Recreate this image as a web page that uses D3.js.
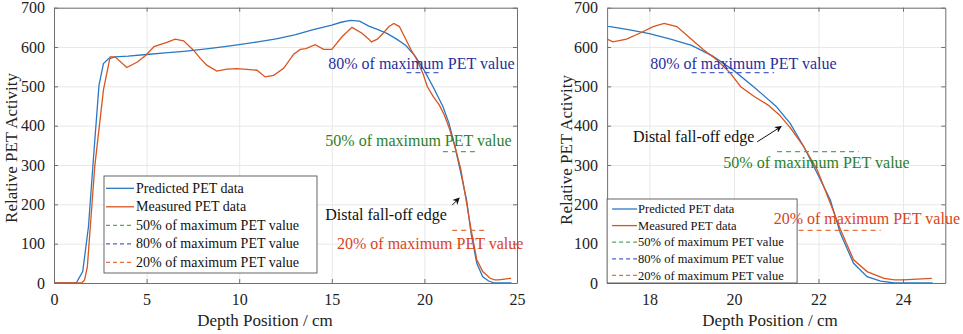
<!DOCTYPE html>
<html>
<head>
<meta charset="utf-8">
<script src="https://cdn.jsdelivr.net/npm/d3@7"></script>
<style>
  body { margin: 0; background: #fff; }
  svg text { font-family: "Liberation Serif", "DejaVu Serif", serif; }
  .grid line { stroke: #e8e8e8; }
  .grid .domain { display: none; }
  .frame .domain, .frame line { stroke: #707070; }
  .frame text { font-size: 16px; fill: #222; }
  .axis-label { font-size: 17px; fill: #222; }
</style>
</head>
<body>
<svg width="963" height="334"></svg>
<script>
// predicted PET profile (blue)
const predDepth = [0, 1.2, 1.55, 1.86, 2.15, 2.43, 2.67, 2.94, 3.3, 4, 5, 6, 7, 8, 9, 10, 11, 12, 13, 14, 15, 15.5, 16, 16.5,
  17, 17.5, 18, 18.5, 19, 19.5, 20, 20.5, 21, 21.33, 21.65, 21.97, 22.28, 22.52, 22.83, 23.15, 23.47, 23.8, 24.2, 24.7];
const predActivity = [0, 0, 29, 143, 330, 503, 558, 570, 575, 577, 581, 585, 589, 594, 600, 606, 613, 621, 631, 644, 656, 663, 668, 666,
  653, 644, 634, 620, 604, 577, 540, 496, 449, 406, 347, 279, 211, 126, 50, 16, 5, 0, 0, 0];

// measured PET profile (red)
const measDepth = [0, 1.5, 1.65, 1.8, 2.2, 2.67, 3.03, 3.3, 3.93, 4.5, 4.96, 5.4, 6.09, 6.54, 7.0, 7.53, 7.9, 8.25, 8.79, 9.34,
  9.87, 10.4, 10.96, 11.4, 11.86, 12.4, 12.94, 13.3, 13.6, 14.1, 14.56, 15.0, 15.55, 16.09, 16.63, 17.0, 17.14, 17.46, 17.77,
  18.09, 18.35, 18.65, 18.96, 19.28, 19.6, 19.92, 20.16, 20.48, 20.8, 21.07, 21.34, 21.65, 21.97, 22.28, 22.52, 22.83, 23.15,
  23.55, 23.8, 24.0, 24.33, 24.68];
const measActivity = [0, 0, 8, 41, 296, 491, 575, 575, 548, 562, 579, 601, 612, 620, 616, 592, 571, 554, 539, 544,
  545, 543, 541, 524, 528, 546, 582, 594, 596, 606, 594, 594, 626, 650, 635, 620, 613, 620, 635,
  652, 660, 652, 623, 593, 567, 533, 499, 474, 453, 428, 394, 347, 288, 203, 136, 59, 29,
  12, 8, 8, 10, 12];

// reference levels: 50%, 80%, 20% of maximum predicted value
const refNames = ['50% of maximum PET value', '80% of maximum PET value', '20% of maximum PET value'];
const refLevels = [334, 535, 134];

const legendNames = ['Predicted PET data', 'Measured PET data'].concat(refNames);

const yTicks = [0, 100, 200, 300, 400, 500, 600, 700];
const leftXTicks = [0, 5, 10, 15, 20, 25];
const rightXTicks = [18, 20, 22, 24];

const blue = '#2a78c4';
const red = '#d9541e';
const refLine = ['#5aa65a', '#4a66c8', '#e8713f'];
const refText = ['#2b7f2b', '#1f2f9c', '#d8441c'];
const serif = '"Liberation Serif", "DejaVu Serif", serif';

const svg = d3.select('svg');

svg.append('defs').append('marker')
  .attr('id', 'arrow')
  .attr('viewBox', '0 0 10 10')
  .attr('refX', 9).attr('refY', 5)
  .attr('markerWidth', 7).attr('markerHeight', 7)
  .attr('markerUnits', 'userSpaceOnUse')
  .attr('orient', 'auto')
  .append('path')
  .attr('d', 'M0,0L10,5L0,10L3,5Z')
  .attr('fill', '#111');

function drawPanel(o) {
  const g = svg.append('g').attr('transform', `translate(${o.left},${o.top})`);
  const x = d3.scaleLinear().domain(o.xDomain).range([0, o.w]);
  const y = d3.scaleLinear().domain([0, 700]).range([o.h, 0]);

  // grid
  g.append('g').attr('class', 'grid')
    .attr('transform', `translate(0,${o.h})`)
    .call(d3.axisBottom(x).tickValues(o.xTicks).tickSize(-o.h).tickFormat(''));
  g.append('g').attr('class', 'grid')
    .call(d3.axisLeft(y).tickValues(yTicks).tickSize(-o.w).tickFormat(''));

  // data lines, clipped to the box
  g.append('clipPath').attr('id', 'clip' + o.id)
    .append('rect').attr('width', o.w).attr('height', o.h);
  const lines = g.append('g').attr('clip-path', `url(#clip${o.id})`);
  const line = d3.line().x(d => x(d[0])).y(d => y(d[1]));

  lines.append('path')
    .datum(d3.zip(predDepth, predActivity))
    .attr('d', line)
    .attr('fill', 'none').attr('stroke', blue).attr('stroke-width', 1.3);
  lines.append('path')
    .datum(d3.zip(measDepth, measActivity))
    .attr('d', line)
    .attr('fill', 'none').attr('stroke', red).attr('stroke-width', 1.3);

  // dashed reference levels
  refLevels.forEach((lv, i) => {
    g.append('line')
      .attr('x1', x(o.refX[i][0])).attr('x2', x(o.refX[i][1]))
      .attr('y1', y(lv)).attr('y2', y(lv))
      .attr('stroke', refLine[i]).attr('stroke-width', 1.2)
      .attr('stroke-dasharray', '5,4');
  });

  // box with inward ticks
  g.append('g').attr('class', 'frame')
    .attr('transform', `translate(0,${o.h})`)
    .call(d3.axisBottom(x).tickValues(o.xTicks).tickSize(-4).tickSizeOuter(0).tickPadding(11));
  g.append('g').attr('class', 'frame')
    .call(d3.axisLeft(y).tickValues(yTicks).tickSize(-4).tickSizeOuter(0).tickPadding(9));
  g.append('g').attr('class', 'frame')
    .call(d3.axisTop(x).tickValues(o.xTicks).tickSize(-4).tickSizeOuter(0).tickFormat(''));
  g.append('g').attr('class', 'frame')
    .attr('transform', `translate(${o.w},0)`)
    .call(d3.axisRight(y).tickValues(yTicks).tickSize(-4).tickSizeOuter(0).tickFormat(''));
  g.selectAll('.frame').attr('font-family', serif).attr('font-size', 16);
  g.selectAll('.frame .tick text').attr('fill', '#222');

  // axis labels
  svg.append('text')
    .attr('class', 'axis-label')
    .attr('x', o.xLabelX).attr('y', 326)
    .attr('text-anchor', 'middle')
    .text('Depth Position / cm');
  svg.append('text')
    .attr('class', 'axis-label')
    .attr('transform', `translate(${o.yLabelX},${o.yLabelY}) rotate(-90)`)
    .attr('text-anchor', 'middle')
    .text('Relative PET Activity');

  // legend
  const L = o.legend;
  const lg = svg.append('g').attr('transform', `translate(${L.x},${L.y})`);
  lg.append('rect')
    .attr('width', L.w).attr('height', L.h)
    .attr('fill', '#fff').attr('stroke', '#555').attr('stroke-width', 0.9);
  const styles = [
    { c: blue, dash: null },
    { c: red, dash: null },
    { c: refLine[0], dash: '4,3' },
    { c: refLine[1], dash: '4,3' },
    { c: refLine[2], dash: '4,3' }
  ];
  legendNames.forEach((name, i) => {
    const cy = L.row0 + i * L.step;
    lg.append('line')
      .attr('x1', L.s0).attr('x2', L.s1).attr('y1', cy).attr('y2', cy)
      .attr('stroke', styles[i].c).attr('stroke-width', 1.3)
      .attr('stroke-dasharray', styles[i].dash);
    lg.append('text')
      .attr('x', L.tx).attr('y', cy).attr('dy', '0.33em')
      .attr('font-size', L.fs).attr('fill', '#111')
      .text(name);
  });

  // annotation texts, on top of everything
  const ann = svg.append('g').attr('transform', `translate(${o.left},${o.top})`);
  refNames.forEach((t, i) => {
    ann.append('text')
      .attr('x', x(o.refText[i][0])).attr('y', y(o.refText[i][1]))
      .attr('font-size', 16).attr('fill', refText[i])
      .text(t);
  });
  ann.append('text')
    .attr('x', x(o.distal[0])).attr('y', y(o.distal[1]))
    .attr('font-size', 16).attr('fill', '#111')
    .text('Distal fall-off edge');
  ann.append('line')
    .attr('x1', x(o.arrow[0][0])).attr('y1', y(o.arrow[0][1]))
    .attr('x2', x(o.arrow[1][0])).attr('y2', y(o.arrow[1][1]))
    .attr('stroke', '#111').attr('stroke-width', 1)
    .attr('marker-end', 'url(#arrow)');
}

drawPanel({
  id: 'L', left: 54, top: 7.7, w: 463, h: 275.3,
  xDomain: [0, 25], xTicks: leftXTicks,
  refX: [[21.0, 22.85], [19.03, 20.9], [21.5, 23.4]],
  refText: [[14.65, 349], [14.81, 544], [15.28, 86]],
  distal: [14.65, 160],
  arrow: [[21.5, 198], [21.88, 216]],
  xLabelX: 265, yLabelX: 17, yLabelY: 148,
  legend: { x: 104, y: 176, w: 213, h: 97, row0: 12.3, step: 18.5, s0: 2, s1: 30, tx: 32, fs: 14 }
});

drawPanel({
  id: 'R', left: 607.1, top: 7.7, w: 338.2, h: 275.3,
  xDomain: [17, 25], xTicks: rightXTicks,
  refX: [[21.02, 22.95], [19.0, 20.95], [21.53, 23.47]],
  refText: [[19.75, 292], [18.02, 544], [20.94, 150]],
  distal: [17.61, 359],
  arrow: [[20.55, 359], [21.12, 398]],
  xLabelX: 770, yLabelX: 572, yLabelY: 150,
  legend: { x: 607.1, y: 199, w: 190, h: 84, row0: 10, step: 16.6, s0: 5, s1: 30, tx: 31, fs: 12.5 }
});
</script>
</body>
</html>
